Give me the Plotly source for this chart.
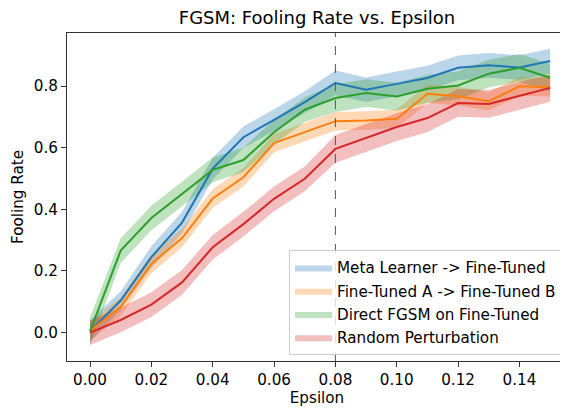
import plotly.graph_objects as go

epsilon = [0.00, 0.01, 0.02, 0.03, 0.04, 0.05, 0.06, 0.07, 0.08, 0.09, 0.10, 0.11, 0.12, 0.13, 0.14, 0.15]

meta_mean = [0.005, 0.104, 0.245, 0.357, 0.532, 0.634, 0.690, 0.748, 0.810, 0.788, 0.807, 0.826, 0.859, 0.867, 0.860, 0.881]
meta_sd = [0.035, 0.030, 0.035, 0.035, 0.035, 0.035, 0.035, 0.035, 0.040, 0.040, 0.040, 0.040, 0.040, 0.040, 0.040, 0.040]

ftab_mean = [0.005, 0.084, 0.223, 0.307, 0.435, 0.504, 0.615, 0.650, 0.686, 0.688, 0.694, 0.775, 0.767, 0.751, 0.799, 0.796]
ftab_sd = [0.030, 0.030, 0.030, 0.030, 0.030, 0.030, 0.030, 0.030, 0.030, 0.030, 0.030, 0.030, 0.030, 0.030, 0.030, 0.030]

direct_mean = [0.004, 0.266, 0.372, 0.450, 0.528, 0.560, 0.650, 0.723, 0.761, 0.777, 0.766, 0.791, 0.802, 0.840, 0.859, 0.827]
direct_sd = [0.045, 0.040, 0.040, 0.040, 0.040, 0.040, 0.040, 0.040, 0.045, 0.045, 0.045, 0.045, 0.045, 0.045, 0.045, 0.045]

random_mean = [0.000, 0.041, 0.091, 0.163, 0.277, 0.352, 0.434, 0.499, 0.596, 0.632, 0.667, 0.696, 0.745, 0.742, 0.769, 0.794]
random_sd = [0.040, 0.040, 0.040, 0.040, 0.040, 0.040, 0.040, 0.040, 0.045, 0.045, 0.045, 0.045, 0.045, 0.045, 0.045, 0.045]

names = ["Meta Learner -> Fine-Tuned", "Fine-Tuned A -> Fine-Tuned B",
         "Direct FGSM on Fine-Tuned", "Random Perturbation"]
colors = [(31, 119, 180), (255, 127, 14), (44, 160, 44), (214, 39, 40)]
series = [(meta_mean, meta_sd), (ftab_mean, ftab_sd), (direct_mean, direct_sd), (random_mean, random_sd)]

fig = go.Figure()
for name, (r, g, b), (mean, sd) in zip(names, colors, series):
    upper = [m + s for m, s in zip(mean, sd)]
    lower = [m - s for m, s in zip(mean, sd)]
    fig.add_trace(go.Scatter(x=epsilon, y=upper, mode="lines", line=dict(width=0),
                             showlegend=False, hoverinfo="skip", legendgroup=name))
    fig.add_trace(go.Scatter(x=epsilon, y=lower, mode="lines", line=dict(width=0),
                             fill="tonexty", fillcolor=f"rgba({r},{g},{b},0.3)",
                             name=name, legendgroup=name))
for name, (r, g, b), (mean, sd) in zip(names, colors, series):
    fig.add_trace(go.Scatter(x=epsilon, y=mean, mode="lines",
                             line=dict(color=f"rgb({r},{g},{b})", width=2),
                             showlegend=False, legendgroup=name))

fig.add_vline(x=0.08, line=dict(color="#555555", width=1, dash="dash"))

font = "DejaVu Sans"
fs = 15.2
# page body has an 8px margin, so the figure is offset by 8px
W, H = 560, 402
fig.update_layout(
    width=W, height=H,
    margin=dict(l=59, r=1, t=25, b=49),
    plot_bgcolor="white", paper_bgcolor="white",
    font=dict(family=font, size=fs, color="black"),
    title=dict(text="FGSM: Fooling Rate vs. Epsilon", x=0.5, xanchor="center",
               xref="paper", y=1 - 9.5 / H, yanchor="middle",
               font=dict(size=18, family=font)),
    showlegend=True,
    legend=dict(x=0.99, y=0.018, xanchor="right", yanchor="bottom",
                bgcolor="rgba(255,255,255,0.8)", bordercolor="#cccccc", borderwidth=1,
                font=dict(size=fs, family=font), tracegroupgap=0.5, itemwidth=37),
)
fig.update_xaxes(range=[-0.0075, 0.1555], tickvals=[0.0, 0.02, 0.04, 0.06, 0.08, 0.10, 0.12, 0.14],
                 ticktext=["0.00", "0.02", "0.04", "0.06", "0.08", "0.10", "0.12", "0.14"],
                 showgrid=False, zeroline=False, showline=True, linecolor="#333", linewidth=1,
                 mirror=True, ticks="outside", ticklen=5, tickcolor="#333", automargin=False,
                 title=dict(text="Epsilon", font=dict(size=fs), standoff=4),
                 tickfont=dict(size=fs))
fig.update_yaxes(range=[-0.092, 0.972], tickvals=[0.0, 0.2, 0.4, 0.6, 0.8],
                 ticktext=["0.0", "0.2", "0.4", "0.6", "0.8"],
                 showgrid=False, zeroline=False, showline=True, linecolor="#333", linewidth=1,
                 mirror=True, ticks="outside", ticklen=5, tickcolor="#333", automargin=False,
                 title=dict(text="Fooling Rate", font=dict(size=fs), standoff=6),
                 tickfont=dict(size=fs))

fig.write_html("out.html")
